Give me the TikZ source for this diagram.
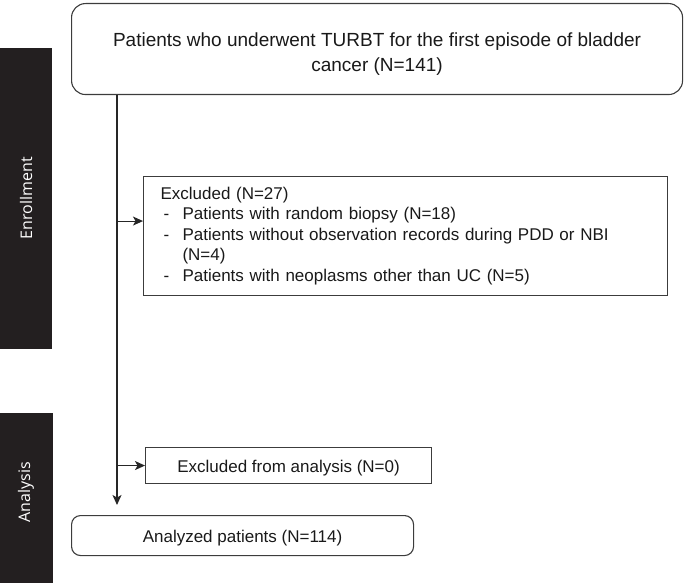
\documentclass[tikz,border=0pt]{standalone}
\usepackage{fontspec}
\setmainfont{Liberation Sans}
\newfontfamily\barfont{Open Sans}
\usetikzlibrary{arrows.meta,positioning}
\definecolor{barblack}{HTML}{231F20}
\definecolor{linegray}{HTML}{3C3C3C}
\newcommand{\exclitem}{\makebox[22pt][l]{\hspace{3pt}-}}
\tikzset{
  stagebar/.style={fill=barblack,draw=none},
  stagelabel/.style={rotate=90,text=white,inner sep=0pt,font=\barfont\fontsize{16}{18}\selectfont},
  roundbox/.style={draw=linegray,line width=1.1pt,rounded corners=14pt,align=center,inner sep=0pt,
    font=\fontsize{19}{25}\selectfont},
  plainbox/.style={draw=linegray,line width=1.1pt,inner sep=0pt,text=black!90,
    font=\fontsize{17}{20.5}\selectfont},
  flow/.style={draw=black!85,line width=1.1pt,-{Stealth[length=10pt,width=9pt,inset=2.5pt]}},
}

\begin{document}
\begin{tikzpicture}[x=1pt,y=-1pt]
	\useasboundingbox (0,0) rectangle (685,583);
	%stage bars
	\fill[stagebar] (0,48) rectangle (52,349); %enrollment bar
	\node[stagelabel] (enrolbar) at (26,198) {Enrollment};
	\fill[stagebar] (0,413) rectangle (53,583); %analysis bar
	\node[stagelabel] (analysisbar) at (26,492) {Analysis};

	%boxes
	\node[roundbox,text=black!90,minimum width=611pt,minimum height=91pt,anchor=north west] (start) at (71,3)
	  {\rule{0pt}{24pt}Patients who underwent TURBT for the first episode of bladder\\cancer (N=141)};
	\node[plainbox,align=left,text width=490pt,inner xsep=17pt,minimum height=119pt,anchor=north west] (excl) at (143,176)
	  {Excluded (N=27)\\
	   \exclitem Patients with random biopsy (N=18)\\
	   \exclitem Patients without observation records during PDD or NBI\\
	   \hspace*{22pt}(N=4)\\
	   \exclitem Patients with neoplasms other than UC (N=5)};
	\node[plainbox,text height=17pt,text depth=3.6pt,minimum width=286pt,minimum height=36pt,anchor=north west] (nozero) at (145,447)
	  {Excluded from analysis (N=0)};
	\node[plainbox,text height=17pt,text depth=3.6pt,rounded corners=9pt,minimum width=342pt,minimum height=40pt,anchor=north west] (final) at (71,515)
	  {Analyzed patients (N=114)};

	%arrows
	\coordinate (trunk) at ([xshift=46pt]start.south west);
	\coordinate (tip) at ([yshift=10pt]final.north west -| trunk);
	\coordinate (exclin) at ([yshift=15pt]excl.west);
	\draw[flow] (trunk) -- (tip); %main line
	\draw[flow] (trunk |- exclin) -- (exclin); %to excluded
	\draw[flow] (trunk |- nozero.west) -- (nozero.west); %to excluded from analysis
\end{tikzpicture}
\end{document}
